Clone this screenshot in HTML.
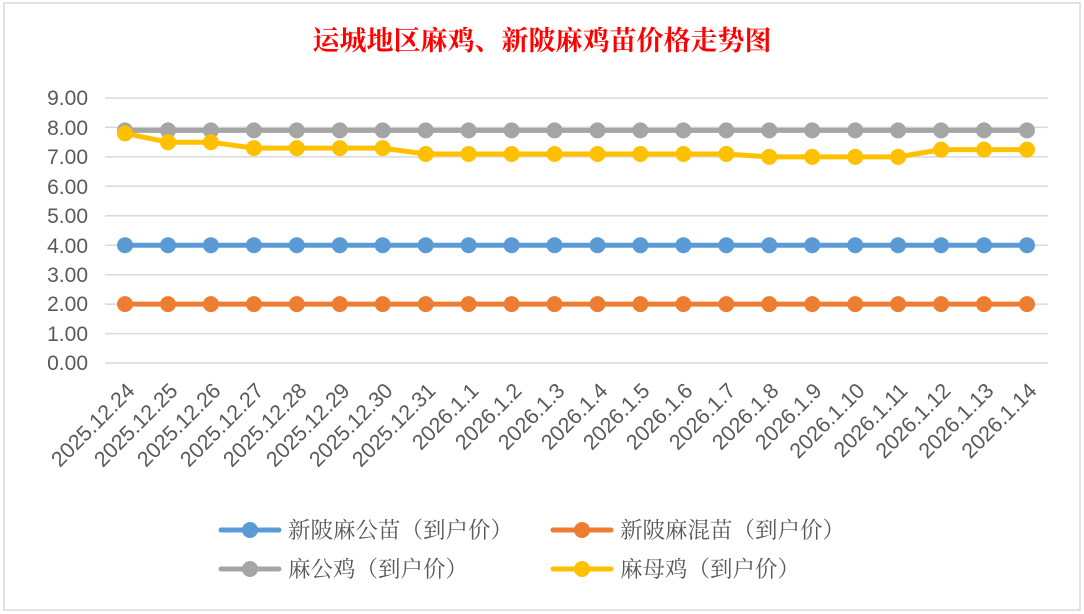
<!DOCTYPE html>
<html><head><meta charset="utf-8"><style>body{margin:0;background:#fff}svg{display:block}</style></head><body>
<svg width="1084" height="614" xmlns="http://www.w3.org/2000/svg" font-family="Liberation Sans, Noto Sans CJK SC, sans-serif">
<defs>
<marker id="mo" markerUnits="userSpaceOnUse" markerWidth="20" markerHeight="20" refX="10" refY="10"><circle cx="10" cy="10" r="8" fill="#ed7d31"/></marker>
<marker id="mb" markerUnits="userSpaceOnUse" markerWidth="20" markerHeight="20" refX="10" refY="10"><circle cx="10" cy="10" r="8" fill="#5b9bd5"/></marker>
<marker id="mg" markerUnits="userSpaceOnUse" markerWidth="20" markerHeight="20" refX="10" refY="10"><circle cx="10" cy="10" r="8" fill="#a5a5a5"/></marker>
<marker id="my" markerUnits="userSpaceOnUse" markerWidth="20" markerHeight="20" refX="10" refY="10"><circle cx="10" cy="10" r="8" fill="#ffc000"/></marker>
</defs>
<rect x="0" y="0" width="1084" height="614" fill="#fff"/>
<rect x="4" y="3" width="1076" height="607" fill="#fff" stroke="#d9d9d9" stroke-width="1.5"/>
<text x="542" y="50" text-anchor="middle" font-size="27" font-weight="bold" fill="#ff0000" font-family="Noto Serif CJK SC, serif">运城地区麻鸡、新陂麻鸡苗价格走势图</text>
<g stroke="#d9d9d9" stroke-width="1.5">
<line x1="105" x2="1048" y1="98" y2="98"/><line x1="105" x2="1048" y1="127.4" y2="127.4"/><line x1="105" x2="1048" y1="156.9" y2="156.9"/><line x1="105" x2="1048" y1="186.3" y2="186.3"/><line x1="105" x2="1048" y1="215.8" y2="215.8"/><line x1="105" x2="1048" y1="245.2" y2="245.2"/><line x1="105" x2="1048" y1="274.7" y2="274.7"/><line x1="105" x2="1048" y1="304.1" y2="304.1"/><line x1="105" x2="1048" y1="333.6" y2="333.6"/><line x1="105" x2="1048" y1="363" y2="363"/>
</g>
<g font-size="21" fill="#595959" text-anchor="end">
<text x="88" y="105">9.00</text><text x="88" y="135">8.00</text><text x="88" y="164">7.00</text><text x="88" y="194">6.00</text><text x="88" y="223">5.00</text><text x="88" y="253">4.00</text><text x="88" y="282">3.00</text><text x="88" y="311">2.00</text><text x="88" y="341">1.00</text><text x="88" y="370">0.00</text>
</g>
<g font-size="21.5" fill="#595959" text-anchor="end">
<text transform="translate(136,392) rotate(-45)">2025.12.24</text>
<text transform="translate(179,392) rotate(-45)">2025.12.25</text>
<text transform="translate(222,392) rotate(-45)">2025.12.26</text>
<text transform="translate(265,392) rotate(-45)">2025.12.27</text>
<text transform="translate(308,392) rotate(-45)">2025.12.28</text>
<text transform="translate(351,392) rotate(-45)">2025.12.29</text>
<text transform="translate(394,392) rotate(-45)">2025.12.30</text>
<text transform="translate(437,392) rotate(-45)">2025.12.31</text>
<text transform="translate(480,392) rotate(-45)">2026.1.1</text>
<text transform="translate(523,392) rotate(-45)">2026.1.2</text>
<text transform="translate(566,392) rotate(-45)">2026.1.3</text>
<text transform="translate(609,392) rotate(-45)">2026.1.4</text>
<text transform="translate(651,392) rotate(-45)">2026.1.5</text>
<text transform="translate(694,392) rotate(-45)">2026.1.6</text>
<text transform="translate(737,392) rotate(-45)">2026.1.7</text>
<text transform="translate(780,392) rotate(-45)">2026.1.8</text>
<text transform="translate(823,392) rotate(-45)">2026.1.9</text>
<text transform="translate(866,392) rotate(-45)">2026.1.10</text>
<text transform="translate(909,392) rotate(-45)">2026.1.11</text>
<text transform="translate(952,392) rotate(-45)">2026.1.12</text>
<text transform="translate(995,392) rotate(-45)">2026.1.13</text>
<text transform="translate(1038,392) rotate(-45)">2026.1.14</text>
</g>
<g fill="none" stroke-width="5" stroke-linejoin="round">
<polyline stroke="#ed7d31" marker-start="url(#mo)" marker-mid="url(#mo)" marker-end="url(#mo)" points="125,304.1 168,304.1 210.9,304.1 253.9,304.1 296.8,304.1 339.8,304.1 382.7,304.1 425.7,304.1 468.6,304.1 511.6,304.1 554.5,304.1 597.5,304.1 640.4,304.1 683.4,304.1 726.3,304.1 769.3,304.1 812.2,304.1 855.2,304.1 898.1,304.1 941.1,304.1 984,304.1 1027,304.1"/>
<polyline stroke="#5b9bd5" marker-start="url(#mb)" marker-mid="url(#mb)" marker-end="url(#mb)" points="125,245.2 168,245.2 210.9,245.2 253.9,245.2 296.8,245.2 339.8,245.2 382.7,245.2 425.7,245.2 468.6,245.2 511.6,245.2 554.5,245.2 597.5,245.2 640.4,245.2 683.4,245.2 726.3,245.2 769.3,245.2 812.2,245.2 855.2,245.2 898.1,245.2 941.1,245.2 984,245.2 1027,245.2"/>
<polyline stroke="#a5a5a5" marker-start="url(#mg)" marker-mid="url(#mg)" marker-end="url(#mg)" points="125,130.4 168,130.4 210.9,130.4 253.9,130.4 296.8,130.4 339.8,130.4 382.7,130.4 425.7,130.4 468.6,130.4 511.6,130.4 554.5,130.4 597.5,130.4 640.4,130.4 683.4,130.4 726.3,130.4 769.3,130.4 812.2,130.4 855.2,130.4 898.1,130.4 941.1,130.4 984,130.4 1027,130.4"/>
<polyline stroke="#ffc000" marker-start="url(#my)" marker-mid="url(#my)" marker-end="url(#my)" points="125,133.4 168,142.2 210.9,142.2 253.9,148.1 296.8,148.1 339.8,148.1 382.7,148.1 425.7,154 468.6,154 511.6,154 554.5,154 597.5,154 640.4,154 683.4,154 726.3,154 769.3,156.9 812.2,156.9 855.2,156.9 898.1,156.9 941.1,149.6 984,149.6 1027,149.6"/>
</g>
<g font-size="22.5" fill="#595959" font-family="Noto Serif CJK SC, serif">
<line x1="221" x2="279" y1="530" y2="530" stroke="#5b9bd5" stroke-width="5" stroke-linecap="round"/><circle cx="250" cy="530" r="8" fill="#5b9bd5"/>
<text x="288" y="538">新陂麻公苗（到户价）</text>
<line x1="553" x2="611" y1="530" y2="530" stroke="#ed7d31" stroke-width="5" stroke-linecap="round"/><circle cx="582" cy="530" r="8" fill="#ed7d31"/>
<text x="620" y="538">新陂麻混苗（到户价）</text>
<line x1="221" x2="279" y1="569" y2="569" stroke="#a5a5a5" stroke-width="5" stroke-linecap="round"/><circle cx="250" cy="569" r="8" fill="#a5a5a5"/>
<text x="288" y="577">麻公鸡（到户价）</text>
<line x1="553" x2="611" y1="569" y2="569" stroke="#ffc000" stroke-width="5" stroke-linecap="round"/><circle cx="582" cy="569" r="8" fill="#ffc000"/>
<text x="620" y="577">麻母鸡（到户价）</text>
</g>
</svg>
</body></html>
